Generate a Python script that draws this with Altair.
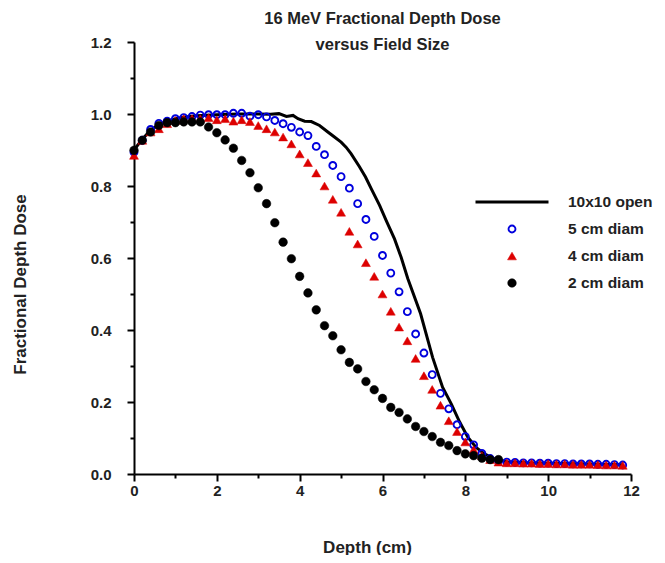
import altair as alt
import pandas as pd

# ---------------- data ----------------
depth = [0.0, 0.2, 0.4, 0.6, 0.8, 1.0, 1.2, 1.4, 1.6, 1.8,
         2.0, 2.2, 2.4, 2.6, 2.8, 3.0, 3.2, 3.4, 3.6, 3.8,
         4.0, 4.2, 4.4, 4.6, 4.8, 5.0, 5.2, 5.4, 5.6, 5.8,
         6.0, 6.2, 6.4, 6.6, 6.8, 7.0, 7.2, 7.4, 7.6, 7.8,
         8.0, 8.2, 8.4, 8.6, 8.8, 9.0, 9.2, 9.4, 9.6, 9.8,
         10.0, 10.2, 10.4, 10.6, 10.8, 11.0, 11.2, 11.4, 11.6, 11.8]

dose_5cm = [0.894, 0.927, 0.957, 0.974, 0.980, 0.987, 0.990, 0.993, 0.997, 0.998,
            0.998, 0.998, 1.002, 1.002, 0.994, 0.998, 0.992, 0.982, 0.973, 0.963,
            0.950, 0.940, 0.910, 0.887, 0.857, 0.826, 0.794, 0.751, 0.707, 0.660,
            0.607, 0.558, 0.506, 0.451, 0.389, 0.336, 0.276, 0.224, 0.181, 0.137,
            0.104, 0.081, 0.057, 0.043, 0.036, 0.033, 0.032, 0.031, 0.031, 0.030,
            0.030, 0.029, 0.029, 0.028, 0.028, 0.028, 0.027, 0.027, 0.026, 0.025]

dose_4cm = [0.885, 0.927, 0.950, 0.959, 0.973, 0.982, 0.987, 0.987, 0.987, 0.990,
            0.984, 0.987, 0.980, 0.984, 0.979, 0.968, 0.959, 0.950, 0.936, 0.917,
            0.889, 0.865, 0.836, 0.800, 0.763, 0.727, 0.674, 0.639, 0.587, 0.549,
            0.500, 0.452, 0.408, 0.370, 0.321, 0.273, 0.235, 0.191, 0.148, 0.118,
            0.089, 0.068, 0.051, 0.040, 0.033, 0.031, 0.031, 0.030, 0.030, 0.029,
            0.029, 0.028, 0.028, 0.027, 0.027, 0.027, 0.026, 0.025, 0.025, 0.024]

dose_2cm = [0.899, 0.927, 0.950, 0.968, 0.976, 0.976, 0.978, 0.978, 0.978, 0.964,
            0.948, 0.928, 0.905, 0.871, 0.837, 0.795, 0.751, 0.698, 0.644, 0.598,
            0.549, 0.503, 0.456, 0.412, 0.384, 0.345, 0.310, 0.292, 0.257, 0.234,
            0.210, 0.185, 0.171, 0.153, 0.132, 0.118, 0.104, 0.088, 0.079, 0.065,
            0.056, 0.051, 0.044, 0.040, 0.040]

open_depth = [0.0, 0.2, 0.4, 0.6, 0.8, 1.0, 1.2, 1.5, 2.0, 2.5, 3.0, 3.3, 3.5,
              3.68, 3.84, 3.96, 4.12, 4.28, 4.48, 4.68, 4.84, 5.0, 5.12, 5.24,
              5.44, 5.59, 5.73, 5.93, 6.09, 6.29, 6.45, 6.61, 6.92, 7.21, 7.45,
              7.66, 7.86, 8.06, 8.26, 8.46, 8.7, 9.0, 9.5, 10.0, 11.0, 11.8]
open_dose = [0.900, 0.930, 0.955, 0.970, 0.980, 0.987, 0.991, 0.995, 0.998, 1.000,
             1.000, 0.999, 1.001, 0.993, 0.996, 0.987, 0.980, 0.979, 0.968, 0.950,
             0.936, 0.922, 0.908, 0.890, 0.854, 0.825, 0.792, 0.746, 0.704, 0.653,
             0.602, 0.543, 0.445, 0.324, 0.241, 0.195, 0.145, 0.102, 0.074, 0.056,
             0.042, 0.034, 0.031, 0.030, 0.028, 0.026]

series_names = ["10x10 open", "5 cm diam", "4 cm diam", "2 cm diam"]
x_ticks = [0, 1, 2, 3, 4, 5, 6, 7, 8, 9, 10, 11, 12]
y_ticks = [0.0, 0.1, 0.2, 0.3, 0.4, 0.5, 0.6, 0.7, 0.8, 0.9, 1.0, 1.1, 1.2]
title_lines = ["16 MeV Fractional Depth Dose", "versus Field Size"]

# ---------------- tables ----------------
rows = []
for name, vals in [("5 cm diam", dose_5cm), ("4 cm diam", dose_4cm), ("2 cm diam", dose_2cm)]:
    for d, v in zip(depth, vals):
        rows.append({"depth": d, "dose": v, "series": name})
pts = pd.DataFrame(rows)
line_df = pd.DataFrame({"depth": open_depth, "dose": open_dose, "series": "10x10 open"})

FONT = "Liberation Sans"
TXT = "#222222"

x_scale = alt.Scale(domain=[0, 12], nice=False, zero=False)
y_scale = alt.Scale(domain=[0, 1.2], nice=False)

x_axis = alt.Axis(
    values=x_ticks, title="Depth (cm)", labelFlush=False, labelOverlap=False,
    labelExpr="datum.value % 2 === 0 ? format(datum.value, 'd') : ''",
    tickSize={"condition": {"test": "datum.value % 2 === 0", "value": 7}, "value": 4},
    labelPadding=2, titleX=233, titleY=73, titleAlign="center", titleBaseline="middle",
)
y_axis = alt.Axis(
    values=y_ticks, title="Fractional Depth Dose", labelFlush=False, labelOverlap=False,
    labelExpr="round(datum.value * 10) % 2 === 0 ? format(datum.value, '.1f') : ''",
    tickSize={"condition": {"test": "round(datum.value * 10) % 2 === 0", "value": 7}, "value": 4},
    labelPadding=16, titleX=-114, titleY=242, titleAngle=270,
    titleAlign="center", titleBaseline="middle",
)

leg = alt.Legend(
    title=None, orient="none", legendX=340, legendY=152, direction="vertical",
    clipHeight=16, rowPadding=10, labelOffset=18, padding=0,
    labelFont=FONT, labelFontSize=15.5, labelFontWeight="bold", labelColor=TXT,
    labelLimit=0, symbolOpacity=1,
)

def sc(rng, kind=None):
    if kind:
        return alt.Scale(type=kind, domain=series_names, range=rng)
    return alt.Scale(domain=series_names, range=rng)

line = alt.Chart(line_df).mark_line(color="black", strokeWidth=3).encode(
    x=alt.X("depth:Q", scale=x_scale, axis=x_axis),
    y=alt.Y("dose:Q", scale=y_scale, axis=y_axis),
)

points = alt.Chart(pts).mark_point(opacity=1).encode(
    x=alt.X("depth:Q", scale=x_scale, axis=x_axis),
    y=alt.Y("dose:Q", scale=y_scale, axis=y_axis),
    shape=alt.Shape("series:N", scale=sc(["stroke", "circle", "triangle-up", "circle"]), legend=leg),
    stroke=alt.Stroke("series:N", scale=sc(["black", "#0000dd", "#dd0000", "black"]), legend=leg),
    fill=alt.Fill("series:N", scale=sc(["transparent", "transparent", "#dd0000", "black"]), legend=leg),
    size=alt.Size("series:N", scale=sc([5329, 48, 80, 74], "ordinal"), legend=leg),
    strokeWidth=alt.StrokeWidth("series:N", scale=sc([3, 1.9, 0.5, 0.5], "ordinal"), legend=leg),
)

chart = alt.layer(line, points).properties(
    width=497, height=432,
    autosize=alt.AutoSizeParams(type="none"),
    padding={"left": 126, "top": 34, "right": 26, "bottom": 81},
    title=alt.TitleParams(
        title_lines, anchor="middle", frame="group", font=FONT, fontSize=16.5,
        fontWeight="bold", color=TXT, lineHeight=26, offset=-18,
    ),
).configure_view(stroke="transparent").configure_axis(
    grid=False, domainColor="black", domainWidth=2, tickColor="black", tickWidth=2,
    labelFont=FONT, labelFontSize=15, labelFontWeight="bold", labelColor=TXT,
    titleFont=FONT, titleFontSize=17, titleFontWeight="bold", titleColor=TXT,
)

chart.save("out.html", embed_options={"renderer": "svg", "actions": False})
